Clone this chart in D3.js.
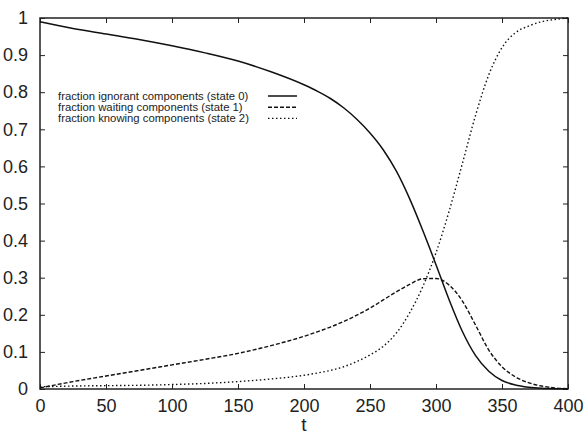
<!DOCTYPE html>
<html>
<head>
<meta charset="utf-8">
<script src="https://cdn.jsdelivr.net/npm/d3@7"></script>
<style>
  body { margin: 0; background: #fff; }
  svg text { font-family: "Liberation Sans", Arial, Helvetica, sans-serif; fill: #222; }
</style>
</head>
<body>
<div id="chart"></div>
<script>
// time steps
const tValues = [0, 25, 50, 75, 100, 125, 150, 175, 200, 210, 220, 230, 240, 250, 260, 270, 280, 290, 300, 310, 320, 330, 340, 350, 360, 370, 380, 390, 400];
// fraction ignorant (state 0)
const ignorant = [0.99, 0.972, 0.957, 0.942, 0.925, 0.906, 0.884, 0.855, 0.82, 0.803, 0.783, 0.758, 0.727, 0.69, 0.645, 0.587, 0.513, 0.427, 0.335, 0.24, 0.155, 0.09, 0.048, 0.023, 0.011, 0.005, 0.002, 0.001, 0.0];
// fraction waiting (state 1)
const waiting = [0.003, 0.02, 0.035, 0.05, 0.065, 0.08, 0.096, 0.117, 0.142, 0.154, 0.167, 0.182, 0.199, 0.218, 0.24, 0.262, 0.282, 0.297, 0.298, 0.28, 0.237, 0.172, 0.105, 0.06, 0.033, 0.017, 0.008, 0.003, 0.001];
// fraction knowing (state 2)
const knowing = [0.006, 0.008, 0.009, 0.01, 0.012, 0.015, 0.02, 0.027, 0.037, 0.043, 0.05, 0.06, 0.074, 0.092, 0.115, 0.151, 0.205, 0.276, 0.367, 0.48, 0.608, 0.738, 0.847, 0.92, 0.96, 0.978, 0.99, 0.996, 1.0];

const xTicks = [0, 50, 100, 150, 200, 250, 300, 350, 400];
const yTicks = [0, 0.1, 0.2, 0.3, 0.4, 0.5, 0.6, 0.7, 0.8, 0.9, 1];

const seriesNames = ["fraction ignorant components (state 0)", "fraction waiting components (state 1)", "fraction knowing components (state 2)"];

const W = 587, H = 436;
const margin = { top: 18, right: 19, bottom: 47, left: 40 };
const width = W - margin.left - margin.right;
const height = H - margin.top - margin.bottom;

const svg = d3.select("#chart").append("svg")
    .attr("width", W)
    .attr("height", H);

const g = svg.append("g").attr("transform", `translate(${margin.left},${margin.top})`);

const x = d3.scaleLinear().domain([0, 400]).range([0, width]);
const y = d3.scaleLinear().domain([0, 1]).range([height, 0]);

// ticks inward on all sides
const tickLen = 5;
const axisColor = "#222";

function styleAxis(sel) {
    sel.select(".domain").remove();
    sel.selectAll(".tick line").attr("stroke", axisColor).attr("stroke-width", 1);
}

const xb = g.append("g").attr("transform", `translate(0,${height})`)
    .call(d3.axisBottom(x).tickValues(xTicks).tickFormat(d3.format("d")).tickSizeInner(-tickLen).tickSizeOuter(0).tickPadding(10));
styleAxis(xb);
xb.selectAll("text").attr("font-size", 18).attr("fill", "#222");

const xt = g.append("g")
    .call(d3.axisTop(x).tickValues(xTicks).tickFormat("").tickSizeInner(-tickLen).tickSizeOuter(0));
styleAxis(xt);

const yl = g.append("g")
    .call(d3.axisLeft(y).tickValues(yTicks).tickFormat(d => d === 0 ? "0" : d === 1 ? "1" : d3.format(".1f")(d)).tickSizeInner(-tickLen).tickSizeOuter(0).tickPadding(12));
styleAxis(yl);
yl.selectAll("text").attr("font-size", 18).attr("fill", "#222");

const yr = g.append("g").attr("transform", `translate(${width},0)`)
    .call(d3.axisRight(y).tickValues(yTicks).tickFormat("").tickSizeInner(-tickLen).tickSizeOuter(0));
styleAxis(yr);

// frame
g.append("rect")
    .attr("x", 0).attr("y", 0)
    .attr("width", width).attr("height", height)
    .attr("fill", "none")
    .attr("stroke", axisColor)
    .attr("stroke-width", 1.5);

// x label
svg.append("text")
    .attr("x", margin.left + x(200))
    .attr("y", 431)
    .attr("text-anchor", "middle")
    .attr("font-size", 19)
    .text("t");

// curves
const lineGen = vals => d3.line()
    .x((d, i) => x(tValues[i]))
    .y(d => y(d))
    .curve(d3.curveMonotoneX)(vals);

const dashes = [null, "4,2", "1.5,2.5"];
const series = [ignorant, waiting, knowing];

series.forEach((vals, i) => {
    g.append("path")
        .attr("d", lineGen(vals))
        .attr("fill", "none")
        .attr("stroke", "#111")
        .attr("stroke-width", i === 0 ? 1.5 : 1.4)
        .attr("stroke-dasharray", dashes[i]);
});

// legend
const legend = svg.append("g");
seriesNames.forEach((name, i) => {
    const ly = 96 + i * 11.2;
    legend.append("text")
        .attr("x", 58)
        .attr("y", ly + 4)
        .attr("text-anchor", "start")
        .attr("font-size", 11.3)
        .text(name);
    legend.append("line")
        .attr("x1", 268).attr("x2", 297)
        .attr("y1", ly).attr("y2", ly)
        .attr("stroke", "#111")
        .attr("stroke-width", i === 0 ? 1.5 : 1.4)
        .attr("stroke-dasharray", dashes[i]);
});
</script>
</body>
</html>
